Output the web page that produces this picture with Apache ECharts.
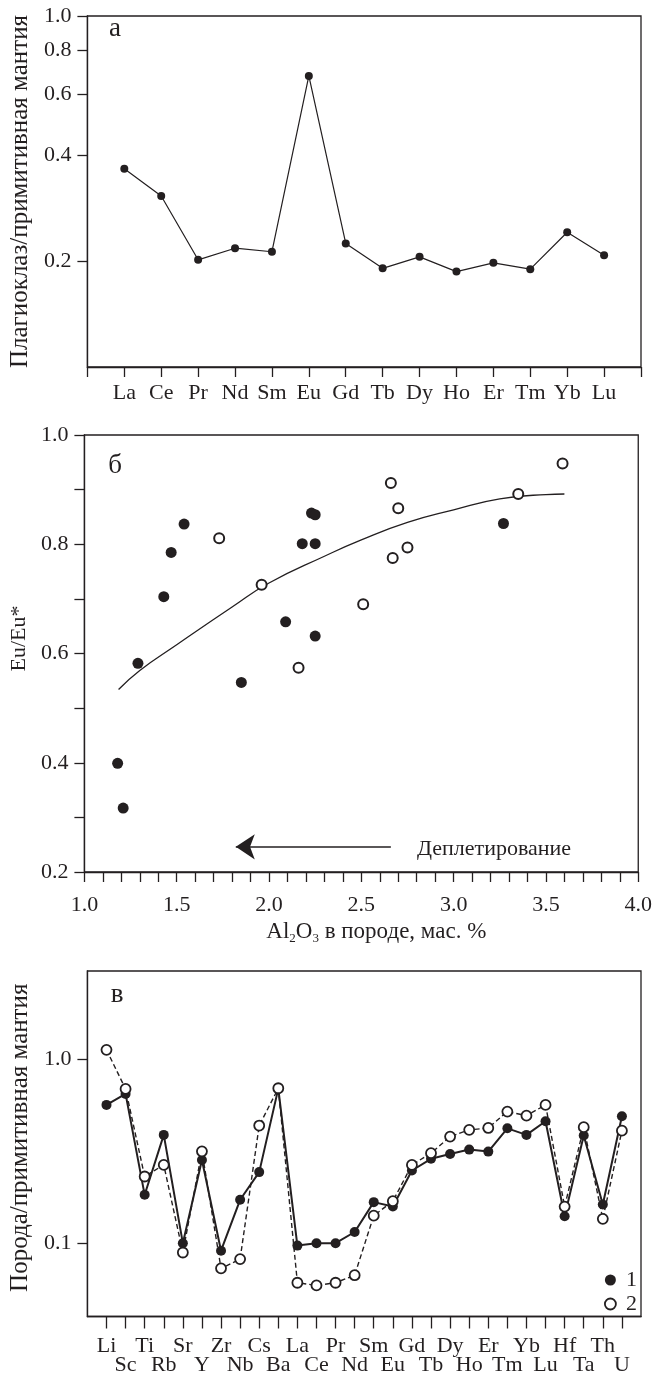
<!DOCTYPE html>
<html>
<head>
<meta charset="utf-8">
<script src="https://cdn.jsdelivr.net/npm/echarts@6/dist/echarts.min.js"></script>
<style>
  html, body { margin: 0; padding: 0; background: #fff; }
  #chart { width: 655px; height: 1376px; }
</style>
</head>
<body>
<div id="chart"></div>
<script>
// panel а: plagioclase / primitive mantle (REE)
const reeNames = ["La", "Ce", "Pr", "Nd", "Sm", "Eu", "Gd", "Tb", "Dy", "Ho", "Er", "Tm", "Yb", "Lu"];
const plagValues = [0.367, 0.307, 0.202, 0.218, 0.213, 0.675, 0.225, 0.191, 0.206, 0.187, 0.198, 0.190, 0.242, 0.208];
const plagTicks = [0.2, 0.4, 0.6, 0.8, 1.0];

// panel б: Eu/Eu* vs Al2O3
const filledAl = [1.18, 1.21, 1.29, 1.43, 1.47, 1.54, 1.85, 2.09, 2.18, 2.25, 2.23, 2.25, 2.25, 3.27];
const filledEu = [0.399, 0.317, 0.582, 0.704, 0.785, 0.837, 0.547, 0.658, 0.801, 0.801, 0.857, 0.854, 0.632, 0.838];
const openAl = [1.73, 1.96, 2.16, 2.66, 2.70, 2.75, 2.67, 2.51, 3.35, 3.59];
const openEu = [0.811, 0.726, 0.574, 0.912, 0.866, 0.794, 0.775, 0.690, 0.892, 0.948];
const trendAl = [1.185, 1.3, 1.5, 1.8, 2.0, 2.3, 2.5, 2.75, 3.0, 3.25, 3.5, 3.6];
const trendEu = [0.534, 0.569, 0.616, 0.685, 0.729, 0.778, 0.808, 0.840, 0.863, 0.883, 0.891, 0.892];
const arrowFrom = [2.66, 0.246];
const arrowTo = [1.82, 0.246];

// panel в: rock / primitive mantle (spider diagram)
const spiderNames = ["Li", "Sc", "Ti", "Rb", "Sr", "Y", "Zr", "Nb", "Cs", "Ba", "La", "Ce", "Pr", "Nd",
  "Sm", "Eu", "Gd", "Tb", "Dy", "Ho", "Er", "Tm", "Yb", "Lu", "Hf", "Ta", "Th", "U"];
const rock1 = [0.563, 0.646, 0.183, 0.387, 0.100, 0.283, 0.091, 0.172, 0.243, 0.690, 0.097, 0.100, 0.100, 0.115,
  0.167, 0.158, 0.248, 0.287, 0.305, 0.322, 0.314, 0.420, 0.387, 0.459, 0.140, 0.384, 0.162, 0.488];
const rock2 = [1.12, 0.687, 0.230, 0.266, 0.089, 0.315, 0.073, 0.082, 0.435, 0.693, 0.061, 0.059, 0.061, 0.067,
  0.141, 0.169, 0.266, 0.308, 0.379, 0.412, 0.422, 0.518, 0.492, 0.563, 0.158, 0.426, 0.1355, 0.408];
const spiderTicks = [0.1, 1.0];

const ink = "#231f20";
const font = "Liberation Serif";

function lineStyle() {
  return { color: ink, width: 1.3 };
}
function tickStyle(len, extra) {
  return Object.assign({ show: true, length: len, lineStyle: lineStyle() }, extra || {});
}
function labelStyle(extra) {
  return Object.assign({ color: ink, fontFamily: font, fontSize: 22 }, extra || {});
}
function padEnds(arr) {
  return [null].concat(arr).concat([null]);
}

const myChart = echarts.init(document.getElementById("chart"));
const option = {
  backgroundColor: "#fff",
  animation: false,
  textStyle: { fontFamily: font, color: ink },
  grid: [
    { left: 84, top: 16, width: 557, height: 351, show: true, borderColor: ink, borderWidth: 1.3 },
    { left: 84, top: 435, width: 557, height: 437, show: true, borderColor: ink, borderWidth: 1.3 },
    { left: 84, top: 971, width: 557, height: 346, show: true, borderColor: ink, borderWidth: 1.3 },
  ],
  xAxis: [
    {
      gridIndex: 0,
      type: "category",
      data: [""].concat(reeNames).concat([" "]),
      boundaryGap: false,
      axisLine: { lineStyle: lineStyle() },
      axisTick: tickStyle(10, { interval: 0 }),
      axisLabel: labelStyle({ interval: 0, margin: 15 }),
      splitLine: { show: false },
    },
    {
      gridIndex: 1,
      type: "value",
      min: 1,
      max: 4,
      interval: 0.1,
      axisLine: { lineStyle: lineStyle() },
      axisTick: tickStyle(10),
      axisLabel: labelStyle({
        margin: 22,
        formatter: function (v) {
          const k = Math.round(v * 10);
          return k % 5 === 0 ? (k / 10).toFixed(1) : "";
        },
      }),
      splitLine: { show: false },
      name: "{n|Al}{s|2}{n|O}{s|3}{n| в породе, мас. %}",
      nameLocation: "middle",
      nameGap: 46,
      nameTextStyle: {
        padding: [0, 0, 0, 30],
        rich: {
          n: { fontSize: 23, fontFamily: font, color: ink },
          s: { fontSize: 13, fontFamily: font, color: ink, padding: [14, 0, 0, 0] },
        },
      },
    },
    {
      gridIndex: 2,
      type: "category",
      data: [""].concat(spiderNames).concat([" "]),
      boundaryGap: false,
      axisLine: { lineStyle: lineStyle() },
      axisTick: tickStyle(12, {
        interval: function (i) {
          return i > 0 && i < spiderNames.length + 1;
        },
      }),
      axisLabel: labelStyle({
        interval: 0,
        margin: 20,
        lineHeight: 19,
        formatter: function (v, i) {
          return i % 2 === 1 ? v : "\n" + v;
        },
      }),
      splitLine: { show: false },
    },
  ],
  yAxis: [
    {
      gridIndex: 0,
      type: "log",
      min: 0.1,
      max: 1,
      axisLine: { show: true, lineStyle: lineStyle() },
      axisTick: tickStyle(10, { customValues: plagTicks }),
      axisLabel: labelStyle({
        customValues: plagTicks,
        margin: 16,
        formatter: function (v) {
          return Number(v).toFixed(1);
        },
      }),
      splitLine: { show: false },
      name: "Плагиоклаз/примитивная мантия",
      nameLocation: "middle",
      nameRotate: 90,
      nameGap: 50,
      nameTextStyle: { fontSize: 25, fontFamily: font, color: ink },
    },
    {
      gridIndex: 1,
      type: "value",
      min: 0.2,
      max: 1.0,
      interval: 0.1,
      axisLine: { show: true, lineStyle: lineStyle() },
      axisTick: tickStyle(10),
      axisLabel: labelStyle({
        margin: 16,
        formatter: function (v) {
          const k = Math.round(v * 10);
          return k % 2 === 0 ? (k / 10).toFixed(1) : "";
        },
      }),
      splitLine: { show: false },
      name: "Eu/Eu*",
      nameLocation: "middle",
      nameRotate: 90,
      nameGap: 52,
      nameTextStyle: { fontSize: 22, fontFamily: font, color: ink, padding: [0, 0, 0, 30] },
    },
    {
      gridIndex: 2,
      type: "log",
      min: 0.04,
      max: 3,
      axisLine: { show: true, lineStyle: lineStyle() },
      axisTick: tickStyle(10, { customValues: spiderTicks }),
      axisLabel: labelStyle({
        customValues: spiderTicks,
        margin: 16,
        formatter: function (v) {
          return Number(v).toFixed(1);
        },
      }),
      splitLine: { show: false },
      name: "Порода/примитивная мантия",
      nameLocation: "middle",
      nameRotate: 90,
      nameGap: 50,
      nameTextStyle: { fontSize: 25, fontFamily: font, color: ink, padding: [0, 0, 0, 12] },
    },
  ],
  legend: {
    orient: "vertical",
    left: 599,
    top: 1264,
    itemWidth: 11,
    itemHeight: 11,
    itemGap: 2,
    textStyle: { fontSize: 22, fontFamily: font, color: ink, padding: [0, 0, 0, 5] },
    data: [
      { name: "1", icon: "circle", itemStyle: { color: ink } },
      { name: "2", icon: "circle", itemStyle: { color: "#fff", borderColor: ink, borderWidth: 1.8 } },
    ],
  },
  graphic: [
    { type: "text", x: 115, y: 29, style: { text: "а", font: '27px "Liberation Serif"', fill: ink, align: "center", verticalAlign: "middle" } },
    { type: "text", x: 115, y: 466, style: { text: "б", font: '27px "Liberation Serif"', fill: ink, align: "center", verticalAlign: "middle" } },
    { type: "text", x: 117, y: 995, style: { text: "в", font: '27px "Liberation Serif"', fill: ink, align: "center", verticalAlign: "middle" } },
    { type: "text", x: 417, y: 849, style: { text: "Деплетирование", font: '22px "Liberation Serif"', fill: ink, align: "left", verticalAlign: "middle" } },
  ],
  series: [
    {
      name: "plag",
      type: "line",
      xAxisIndex: 0,
      yAxisIndex: 0,
      data: padEnds(plagValues),
      symbol: "circle",
      symbolSize: 8,
      itemStyle: { color: ink },
      lineStyle: { color: ink, width: 1.2 },
    },
    {
      name: "filled",
      type: "scatter",
      xAxisIndex: 1,
      yAxisIndex: 1,
      data: filledAl.map((x, i) => [x, filledEu[i]]),
      symbol: "circle",
      symbolSize: 11,
      itemStyle: { color: ink, opacity: 1 },
    },
    {
      name: "open",
      type: "scatter",
      xAxisIndex: 1,
      yAxisIndex: 1,
      data: openAl.map((x, i) => [x, openEu[i]]),
      symbol: "circle",
      symbolSize: 10,
      itemStyle: { color: "#fff", borderColor: ink, borderWidth: 2, opacity: 1 },
    },
    {
      name: "trend",
      type: "line",
      xAxisIndex: 1,
      yAxisIndex: 1,
      data: trendAl.map((x, i) => [x, trendEu[i]]),
      smooth: true,
      showSymbol: false,
      z: 1,
      lineStyle: { color: ink, width: 1.3 },
      markLine: {
        silent: true,
        symbol: ["none", "arrow"],
        symbolSize: 19,
        label: { show: false },
        lineStyle: { color: ink, width: 1.5, type: "solid" },
        itemStyle: { color: ink },
        data: [[{ coord: arrowFrom }, { coord: arrowTo }]],
      },
    },
    {
      name: "1",
      type: "line",
      xAxisIndex: 2,
      yAxisIndex: 2,
      data: padEnds(rock1),
      symbol: "circle",
      symbolSize: 10,
      itemStyle: { color: ink },
      lineStyle: { color: ink, width: 2 },
    },
    {
      name: "2",
      type: "line",
      xAxisIndex: 2,
      yAxisIndex: 2,
      data: padEnds(rock2),
      symbol: "circle",
      symbolSize: 10,
      itemStyle: { color: "#fff", borderColor: ink, borderWidth: 1.8 },
      lineStyle: { color: ink, width: 1.4, type: [5, 3] },
    },
  ],
};
option && myChart.setOption(option);
</script>
</body>
</html>
